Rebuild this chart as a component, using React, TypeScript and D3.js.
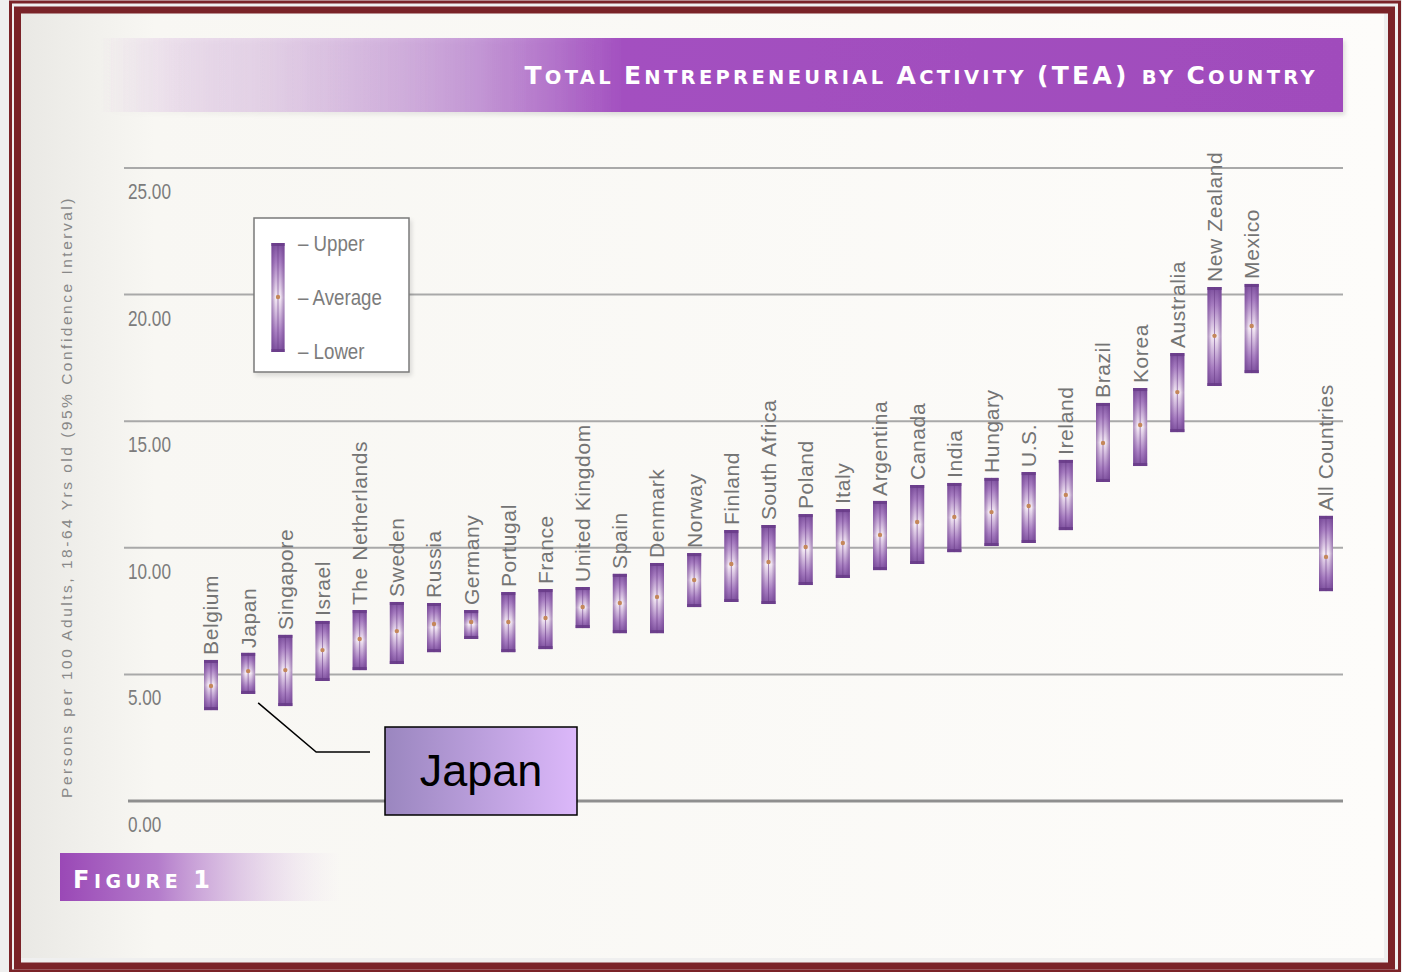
import * as d3 from "d3";

const countries = [
  "Belgium", "Japan", "Singapore", "Israel", "The Netherlands", "Sweden", "Russia", "Germany",
  "Portugal", "France", "United Kingdom", "Spain", "Denmark", "Norway", "Finland", "South Africa",
  "Poland", "Italy", "Argentina", "Canada", "India", "Hungary", "U.S.", "Ireland", "Brazil",
  "Korea", "Australia", "New Zealand", "Mexico", "All Countries",
];
const upper = [
  5.57, 5.85, 6.56, 7.11, 7.54, 7.86, 7.82, 7.54, 8.25, 8.37, 8.45, 8.97, 9.4, 9.79, 10.7, 10.9,
  11.33, 11.53, 11.85, 12.48, 12.56, 12.76, 12.99, 13.47, 15.72, 16.31, 17.69, 20.3, 20.42, 11.26,
];
const average = [
  4.54, 5.13, 5.17, 5.96, 6.4, 6.71, 6.99, 7.07, 7.07, 7.23, 7.66, 7.82, 8.06, 8.73, 9.36, 9.44,
  10.03, 10.19, 10.51, 11.02, 11.22, 11.41, 11.65, 12.09, 14.14, 14.85, 16.15, 18.37, 18.76, 9.64,
];
const lower = [
  3.59, 4.23, 3.75, 4.74, 5.17, 5.41, 5.88, 6.4, 5.88, 6.0, 6.83, 6.63, 6.63, 7.66, 7.86, 7.78,
  8.53, 8.81, 9.12, 9.36, 9.83, 10.07, 10.19, 10.7, 12.6, 13.23, 14.57, 16.39, 16.9, 8.29,
];
const yTicks = [0, 5, 10, 15, 20, 25];
const legendItems = ["Upper", "Average", "Lower"];
const titleParts: [string, boolean][] = [
  ["T", true], ["OTAL ", false], ["E", true], ["NTREPRENEURIAL ", false], ["A", true],
  ["CTIVITY ", false], ["(TEA) ", true], ["BY ", false], ["C", true], ["OUNTRY", false],
];
const figureParts: [string, boolean][] = [["F", true], ["IGURE ", false], ["1", true]];
const calloutLabel = "Japan";
const yTitle = "Persons per 100 Adults, 18-64 Yrs old (95% Confidence Interval)";

const W = 1402;
const H = 972;
const SPACER = "__gap__";
const GRAY = "#7c7c7c";
const SANS = "'Liberation Sans', Arial, sans-serif";
const CAPS = "'DejaVu Sans', Verdana, sans-serif";

const rows = countries.map((name, i) => ({ name, upper: upper[i], average: average[i], lower: lower[i] }));

function ErrorBar({ x, top, bottom, mid, width }: { x: number; top: number; bottom: number; mid: number; width: number }) {
  return (
    <g>
      <rect x={x - width / 2} y={top} width={width} height={bottom - top} fill="url(#barV)" />
      <rect x={x - width / 2} y={top} width={width} height={bottom - top} fill="url(#barH)" />
      <rect x={x - width / 2} y={top} width={width} height={3} fill="#6c3f8c" />
      <rect x={x - width / 2} y={bottom - 3} width={width} height={3} fill="#6c3f8c" />
      <line x1={x} x2={x} y1={top} y2={bottom} stroke="#6a3c86" strokeOpacity="0.55" strokeWidth="1" />
      <circle cx={x} cy={mid} r="2.2" fill="#c4875a" />
    </g>
  );
}

export default function App() {
  const y = d3.scaleLinear().domain([0, 25]).range([801, 168]);
  const x = d3
    .scalePoint<string>()
    .domain([...countries.slice(0, -1), SPACER, countries[countries.length - 1]])
    .range([211, 1326]);
  const barWidth = 14;
  const japan = rows.find((r) => r.name === "Japan")!;
  const jx = x("Japan") ?? 0;

  return (
    <svg width={W} height={H} viewBox={`0 0 ${W} ${H}`} style={{ position: "absolute", left: 0, top: 0 }}>
      <defs>
        <linearGradient id="paper" x1="0" x2="1" y1="0" y2="0">
          <stop offset="0" stopColor="#e9e8e4" />
          <stop offset="0.1" stopColor="#f8f7f3" />
          <stop offset="1" stopColor="#fdfcfa" />
        </linearGradient>
        <linearGradient id="banner" x1="0" x2="1" y1="0" y2="0">
          <stop offset="0" stopColor="#a24ec0" stopOpacity="0" />
          <stop offset="0.12" stopColor="#c79ad6" stopOpacity="0.35" />
          <stop offset="0.3" stopColor="#b276cc" stopOpacity="0.7" />
          <stop offset="0.42" stopColor="#a350c0" />
          <stop offset="1" stopColor="#a04cbc" />
        </linearGradient>
        <linearGradient id="figBanner" x1="0" x2="1" y1="0" y2="0">
          <stop offset="0" stopColor="#9a48b6" />
          <stop offset="0.35" stopColor="#b47ccb" />
          <stop offset="1" stopColor="#e6d2ec" stopOpacity="0" />
        </linearGradient>
        <linearGradient id="barV" x1="0" x2="0" y1="0" y2="1">
          <stop offset="0" stopColor="#7b4e9c" />
          <stop offset="0.18" stopColor="#a67cc0" />
          <stop offset="0.5" stopColor="#f4eaf4" />
          <stop offset="0.82" stopColor="#a67cc0" />
          <stop offset="1" stopColor="#7b4e9c" />
        </linearGradient>
        <linearGradient id="barH" x1="0" x2="1" y1="0" y2="0">
          <stop offset="0" stopColor="#6a3a8a" stopOpacity="0.55" />
          <stop offset="0.3" stopColor="#6a3a8a" stopOpacity="0" />
          <stop offset="0.7" stopColor="#6a3a8a" stopOpacity="0" />
          <stop offset="1" stopColor="#6a3a8a" stopOpacity="0.55" />
        </linearGradient>
        <linearGradient id="callout" x1="0" x2="1" y1="0" y2="0">
          <stop offset="0" stopColor="#9a86bf" />
          <stop offset="1" stopColor="#dcb8fa" />
        </linearGradient>
        <filter id="soft" x="-5%" y="-5%" width="115%" height="125%">
          <feDropShadow dx="2" dy="3" stdDeviation="2" floodColor="#000" floodOpacity="0.12" />
        </filter>
      </defs>

      <rect width={W} height={H} fill="#efefef" />
      <rect x="18" y="12" width={W - 36} height={H - 26} fill="url(#paper)" />

      {/* frame */}
      <rect x="10.5" y="2" width={W - 13} height={H - 3} fill="none" stroke="#7a2328" strokeWidth="3" />
      <rect x="17.5" y="10" width={W - 28} height={H - 16} fill="none" stroke="#7a2328" strokeWidth="7" />

      {/* title banner */}
      <rect x="100" y="38" width="1243" height="74" fill="url(#banner)" filter="url(#soft)" />
      <text x="1318" y="84" textAnchor="end" fill="#ffffff" fontFamily={CAPS} fontWeight="bold" letterSpacing="3.3">
        {titleParts.map(([t, big], i) => (
          <tspan key={i} fontSize={big ? 25 : 19.5}>{t}</tspan>
        ))}
      </text>

      {/* grid + ticks */}
      {yTicks.map((t) => (
        <g key={t}>
          <line
            x1={t === 0 ? 128 : 124}
            x2="1343"
            y1={y(t)}
            y2={y(t)}
            stroke={t === 0 ? "#8f8f8f" : "#a9a9a9"}
            strokeWidth={t === 0 ? 3 : 2}
          />
          <text
            transform={`translate(128 ${y(t) + 31}) scale(0.78 1)`}
            fill={GRAY}
            fontFamily={SANS}
            fontSize="22"
          >
            {d3.format(".2f")(t)}
          </text>
        </g>
      ))}

      <text
        transform="translate(72 497) rotate(-90)"
        textAnchor="middle"
        fill="#888888"
        fontFamily={SANS}
        fontSize="15.5"
        letterSpacing="2.5"
      >
        {yTitle}
      </text>

      {/* legend */}
      <rect x="254" y="218" width="155" height="154" fill="#ffffff" stroke="#7a7a7a" strokeWidth="1.5" filter="url(#soft)" />
      <ErrorBar x={278} top={243} bottom={352} mid={297} width={13} />
      {legendItems.map((label, i) => (
        <text
          key={label}
          transform={`translate(298 ${243 + i * 54}) scale(0.85 1)`}
          dy="0.35em"
          fill={GRAY}
          fontFamily={SANS}
          fontSize="22"
        >
          {"– " + label}
        </text>
      ))}

      {/* bars */}
      {rows.map((r) => {
        const cx = x(r.name) ?? 0;
        return (
          <g key={r.name}>
            <ErrorBar x={cx} top={y(r.upper)} bottom={y(r.lower)} mid={y(r.average)} width={barWidth} />
            <text
              transform={`translate(${cx} ${y(r.upper) - 5}) rotate(-90)`}
              dy="0.35em"
              fill="#747474"
              fontFamily={SANS}
              fontSize="21"
              letterSpacing="0.6"
            >
              {r.name}
            </text>
          </g>
        );
      })}

      {/* Japan callout */}
      <polyline
        points={`${jx + 10},${y(japan.lower) + 9} ${jx + 68},${752} ${370},${752}`}
        fill="none"
        stroke="#000"
        strokeWidth="1.5"
      />
      <rect x="385" y="727" width="192" height="88" fill="url(#callout)" stroke="#000" strokeWidth="1.5" />
      <text x="481" y="786" textAnchor="middle" fontFamily={SANS} fontSize="45" fill="#000">
        {calloutLabel}
      </text>

      {/* figure tag */}
      <rect x="60" y="853" width="280" height="48" fill="url(#figBanner)" />
      <text x="73" y="888" fill="#ffffff" fontFamily={CAPS} fontWeight="bold" letterSpacing="4.5">
        {figureParts.map(([t, big], i) => (
          <tspan key={i} fontSize={big ? 24 : 19}>{t}</tspan>
        ))}
      </text>
    </svg>
  );
}
